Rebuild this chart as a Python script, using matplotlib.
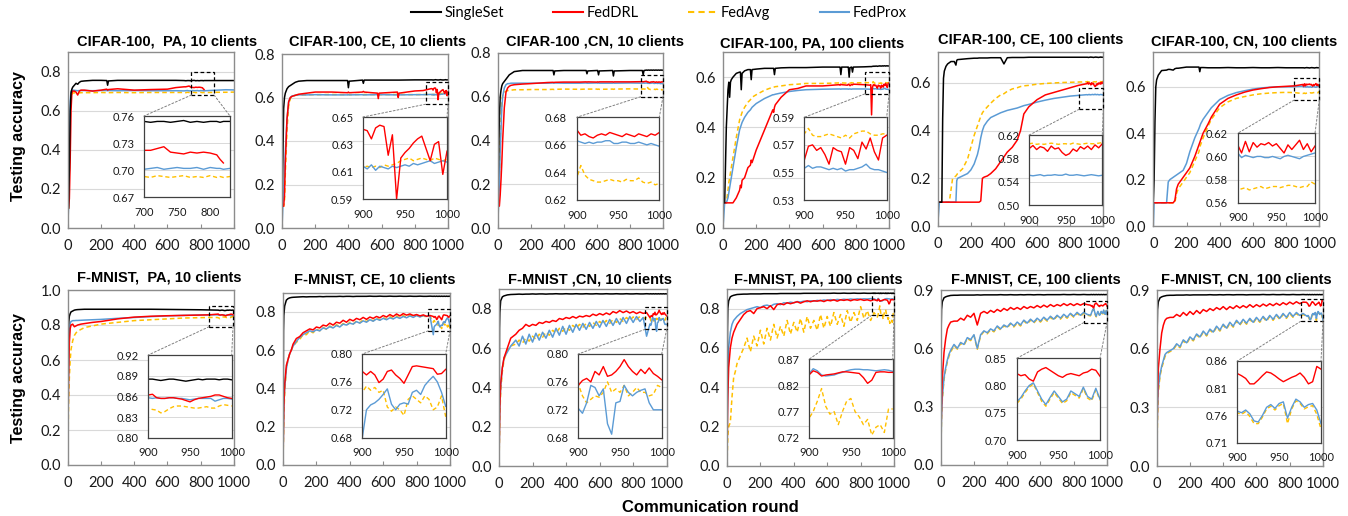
import numpy as np
import matplotlib
matplotlib.use('Agg')
import matplotlib.pyplot as plt
from matplotlib.patches import Rectangle, ConnectionPatch
from matplotlib.lines import Line2D

NaN = float('nan')

SERIES_NAMES = ['SingleSet', 'FedDRL', 'FedAvg', 'FedProx']
TITLES = ["CIFAR-100,  PA, 10 clients", "CIFAR-100, CE, 10 clients", "CIFAR-100 ,CN, 10 clients",
          "CIFAR-100, PA, 100 clients", "CIFAR-100, CE, 100 clients", "CIFAR-100, CN, 100 clients",
          "F-MNIST,  PA, 10 clients", "F-MNIST, CE, 10 clients", "F-MNIST ,CN, 10 clients",
          "F-MNIST, PA, 100 clients", "F-MNIST, CE, 100 clients", "F-MNIST, CN, 100 clients"]

TAIL = [900, 905, 910, 915, 920, 925, 930, 935, 940, 945, 950, 955, 960, 965, 970, 975, 980, 985, 990, 995, 1000]
MID = [100, 120, 140, 160, 180, 200, 220, 240, 260, 280, 300, 320, 340, 360, 380, 400, 420, 440, 460, 480,
       500, 520, 540, 560, 580, 600, 620, 640, 660, 680, 700, 720, 740, 760, 780, 800, 820, 840, 860, 880]

# ---------------- Panel 1: CIFAR-100, PA, 10 clients
p1_x = [0, 5, 10, 15, 20, 25, 30, 40, 50, 60, 70, 80, 100, 150, 200, 235, 240, 245, 300, 400, 500, 600, 650,
        700, 710, 720, 730, 740, 750, 760, 770, 780, 790, 800, 810, 815, 820, 830, 850, 900, 950, 1000]
p1_single = [0.1, 0.1, 0.3, 0.6, 0.69, 0.71, 0.72, 0.73, 0.74, 0.735, 0.745, 0.75, 0.752, 0.755, 0.755,
             0.754, 0.73, 0.752, 0.755, 0.755, 0.755, 0.755, 0.755,
             0.754, 0.753, 0.754, 0.754, 0.753, 0.754, 0.755, 0.753, 0.754, 0.753, 0.754,
             0.754, 0.753, 0.754, 0.754, 0.754, 0.754, 0.754, 0.754]
p1_drl = [0.1, 0.1, 0.15, 0.35, 0.6, 0.69, 0.70, 0.70, 0.695, 0.68, 0.70, 0.705, 0.705, 0.70, 0.705,
          0.71, 0.705, 0.708, 0.712, 0.705, 0.708, 0.71, 0.718,
          0.722, 0.722, 0.724, 0.726, 0.72, 0.719, 0.718, 0.72, 0.719, 0.72, 0.719,
          0.717, 0.712, 0.708, NaN, NaN, NaN, NaN, NaN]
p1_avg = [0.1, 0.1, 0.3, 0.55, 0.67, 0.685, 0.69, 0.691, 0.692, 0.692, 0.691, 0.692, 0.692, 0.692, 0.693,
          0.692, 0.692, 0.692, 0.693, 0.692, 0.693, 0.693, 0.693,
          0.693, 0.692, 0.694, 0.693, 0.692, 0.693, 0.694, 0.692, 0.693, 0.692, 0.694,
          0.692, 0.693, 0.692, 0.693, 0.693, 0.694, 0.694, 0.695]
p1_prox = [0.0, 0.1, 0.4, 0.65, 0.70, 0.703, 0.705, 0.704, 0.703, 0.702, 0.703, 0.703, 0.703, 0.702, 0.703,
           0.703, 0.702, 0.703, 0.702, 0.703, 0.702, 0.702, 0.702,
           0.701, 0.702, 0.703, 0.701, 0.702, 0.703, 0.702, 0.702, 0.703, 0.701, 0.703,
           0.702, 0.702, 0.701, 0.702, 0.703, 0.705, 0.707, 0.706]

# ---------------- Panel 2: CIFAR-100, CE, 10 clients
p2_x = [0, 5, 10, 15, 20, 30, 40, 50, 60, 80, 100, 150, 200, 300, 395, 400, 405, 485, 490, 495,
        575, 580, 585, 695, 700, 705, 800, 850] + TAIL
p2_single = [0.1, 0.3, 0.55, 0.6, 0.62, 0.64, 0.65, 0.655, 0.66, 0.67, 0.675, 0.678, 0.678, 0.678,
             0.678, 0.645, 0.675, 0.68, 0.665, 0.68, 0.68, 0.68, 0.68, 0.68, 0.68, 0.68, 0.681, 0.681] + \
            [0.681, 0.681, 0.680, 0.681, 0.681, 0.682, 0.681, 0.681, 0.680, 0.681, 0.681, 0.682, 0.681,
             0.681, 0.680, 0.681, 0.681, 0.682, 0.681, 0.681, 0.681]
p2_drl = [0.1, 0.1, 0.1, 0.15, 0.3, 0.5, 0.58, 0.6, 0.605, 0.61, 0.615, 0.62, 0.625, 0.625,
          0.622, 0.625, 0.622, 0.625, 0.628, 0.625, 0.62, 0.595, 0.62, 0.625, 0.60, 0.62, 0.63, 0.632] + \
         [0.641, 0.640, 0.634, 0.642, 0.644, 0.643, 0.622, 0.637, 0.590, 0.620, 0.624, 0.627, 0.631,
          0.634, 0.636, 0.627, 0.618, 0.630, 0.632, 0.608, 0.625]
p2_avg = [0.1, 0.1, 0.1, 0.12, 0.25, 0.45, 0.56, 0.595, 0.605, 0.61, 0.612, 0.613, 0.613, 0.614,
          0.613, 0.614, 0.613, 0.614, 0.613, 0.614, 0.613, 0.614, 0.613, 0.614, 0.613, 0.614, 0.613, 0.614] + \
         [0.613, 0.614, 0.613, 0.614, 0.613, 0.615, 0.614, 0.615, 0.616, 0.618, 0.619, 0.620, 0.618,
          0.619, 0.620, 0.619, 0.618, 0.620, 0.619, 0.618, 0.619]
p2_prox = [0.0, 0.1, 0.15, 0.25, 0.35, 0.5, 0.58, 0.6, 0.607, 0.61, 0.612, 0.612, 0.613, 0.612,
           0.612, 0.613, 0.612, 0.613, 0.612, 0.612, 0.613, 0.612, 0.613, 0.612, 0.613, 0.612, 0.613, 0.613] + \
          [0.614, 0.612, 0.615, 0.611, 0.614, 0.613, 0.612, 0.614, 0.613, 0.614, 0.615, 0.614, 0.616,
           0.615, 0.616, 0.617, 0.618, 0.616, 0.617, 0.618, 0.617]

# ---------------- Panel 3: CIFAR-100, CN, 10 clients
p3_x = [0, 5, 10, 15, 20, 25, 30, 40, 50, 60, 70, 80, 100, 150, 200, 300, 335, 340, 345, 400,
        500, 535, 540, 545, 600, 605, 610, 615, 695, 700, 705, 800, 875, 880, 885] + TAIL
p3_single = [0.1, 0.3, 0.5, 0.6, 0.63, 0.65, 0.66, 0.67, 0.68, 0.69, 0.70, 0.705, 0.715, 0.72, 0.72,
             0.72, 0.72, 0.70, 0.718, 0.72, 0.72, 0.72, 0.705, 0.718, 0.72, 0.72, 0.70, 0.718, 0.72, 0.695,
             0.718, 0.72, 0.72, 0.70, 0.72] + \
            [0.722, 0.721, 0.722, 0.722, 0.721, 0.722, 0.722, 0.721, 0.722, 0.722, 0.721, 0.722, 0.722,
             0.721, 0.722, 0.722, 0.721, 0.722, 0.722, 0.721, 0.722]
p3_drl = [0.1, 0.1, 0.1, 0.15, 0.22, 0.3, 0.4, 0.55, 0.62, 0.64, 0.648, 0.652, 0.655, 0.658, 0.66,
          0.665, 0.666, 0.665, 0.666, 0.667, 0.667, 0.668, 0.667, 0.668, 0.667, 0.668, 0.667, 0.668, 0.668, 0.667,
          0.668, 0.668, 0.669, 0.668, 0.669] + \
         [0.671, 0.667, 0.668, 0.666, 0.665, 0.667, 0.668, 0.667, 0.669, 0.668, 0.667, 0.666, 0.668,
          0.667, 0.666, 0.668, 0.667, 0.666, 0.668, 0.667, 0.669]
p3_avg = [0.1, 0.15, 0.25, 0.4, 0.5, 0.58, 0.61, 0.62, 0.625, 0.628, 0.63, 0.63, 0.632, 0.632, 0.633,
          0.633, 0.634, 0.633, 0.634, 0.635, 0.634, 0.635, 0.634, 0.635, 0.635, 0.634, 0.635, 0.634, 0.635, 0.634,
          0.635, 0.636, 0.635, 0.636, 0.635] + \
         [0.636, 0.645, 0.638, 0.635, 0.634, 0.633, 0.633, 0.634, 0.635, 0.634, 0.634, 0.633, 0.635,
          0.634, 0.634, 0.636, 0.633, 0.632, 0.633, 0.631, 0.632]
p3_prox = [0.0, 0.1, 0.2, 0.35, 0.45, 0.55, 0.6, 0.64, 0.655, 0.66, 0.66, 0.662, 0.662, 0.662, 0.662,
           0.662, 0.663, 0.662, 0.663, 0.662, 0.662, 0.663, 0.662, 0.662, 0.663, 0.662, 0.663, 0.662, 0.662, 0.663,
           0.662, 0.663, 0.662, 0.663, 0.662] + \
          [0.663, 0.662, 0.661, 0.662, 0.661, 0.662, 0.662, 0.663, 0.663, 0.661, 0.661, 0.662, 0.662,
           0.661, 0.661, 0.662, 0.661, 0.660, 0.661, 0.660, 0.659]

# ---------------- Panel 4: CIFAR-100, PA, 100 clients
p4_x = [0, 10, 20, 30, 35, 40, 45, 50, 60, 80, 100, 105, 110, 115, 130, 150, 165, 170, 175, 200,
        250, 300, 305, 310, 315, 350, 400, 450, 500, 600, 700, 705, 710, 715, 750, 755, 760, 765, 775, 780,
        785, 850, 885, 890, 895] + TAIL
p4_single = [0.1, 0.1, 0.4, 0.55, 0.58, 0.52, 0.58, 0.59, 0.6, 0.615, 0.62, 0.62, 0.55, 0.615, 0.625,
             0.63, 0.63, 0.59, 0.63, 0.632, 0.635, 0.635, 0.635, 0.61, 0.635, 0.637, 0.638, 0.638, 0.638, 0.64,
             0.64, 0.64, 0.61, 0.64, 0.64, 0.64, 0.60, 0.638, 0.64, 0.62, 0.64, 0.641, 0.642, 0.642, 0.642] + \
            [0.643, 0.643, 0.644, 0.643, 0.644, 0.644, 0.643, 0.644, 0.644, 0.645, 0.644, 0.644, 0.645,
             0.644, 0.645, 0.645, 0.644, 0.645, 0.645, 0.644, 0.645]
p4_drl = [0.1, 0.1, 0.1, 0.1, 0.1, 0.1, 0.1, 0.1, 0.1, 0.12, 0.15, 0.17, 0.16, 0.19, 0.2,
          0.24, 0.25, 0.27, 0.26, 0.31, 0.39, 0.47, 0.46, 0.48, 0.49, 0.52, 0.55, 0.555, 0.565, 0.565,
          0.57, 0.568, 0.572, 0.57, 0.568, 0.572, 0.57, 0.566, 0.571, 0.569, 0.572, 0.57, 0.568, 0.57, 0.45] + \
         [0.559, 0.569, 0.570, 0.566, 0.568, 0.563, 0.556, 0.568, 0.566, 0.565, 0.556, 0.568, 0.566,
          0.560, 0.572, 0.567, 0.575, 0.565, 0.559, 0.575, 0.577]
p4_avg = [0.1, 0.1, 0.1, 0.15, 0.18, 0.2, 0.22, 0.24, 0.28, 0.36, 0.43, 0.44, 0.45, 0.46, 0.48,
          0.5, 0.51, 0.515, 0.52, 0.53, 0.548, 0.56, 0.56, 0.561, 0.562, 0.565, 0.57, 0.572, 0.575, 0.575,
          0.577, 0.576, 0.578, 0.577, 0.576, 0.578, 0.577, 0.576, 0.578, 0.577, 0.577, 0.578, 0.578, 0.577, 0.578] + \
         [0.578, 0.582, 0.577, 0.576, 0.576, 0.577, 0.578, 0.577, 0.576, 0.575, 0.577, 0.575, 0.578,
          0.579, 0.580, 0.580, 0.578, 0.577, 0.577, 0.578, 0.578]
p4_prox = [0.0, 0.1, 0.1, 0.12, 0.14, 0.16, 0.18, 0.2, 0.24, 0.32, 0.39, 0.40, 0.41, 0.42, 0.44,
           0.46, 0.47, 0.475, 0.48, 0.495, 0.515, 0.53, 0.53, 0.531, 0.532, 0.537, 0.543, 0.547, 0.55, 0.552,
           0.553, 0.553, 0.552, 0.553, 0.553, 0.552, 0.553, 0.553, 0.552, 0.553, 0.553, 0.553, 0.552, 0.553, 0.553] + \
          [0.553, 0.555, 0.553, 0.554, 0.554, 0.553, 0.552, 0.553, 0.552, 0.553, 0.551, 0.552, 0.552,
           0.553, 0.554, 0.556, 0.553, 0.552, 0.552, 0.551, 0.550]

# ---------------- Panel 5: CIFAR-100, CE, 100 clients
p5_x = [0, 10, 20, 25, 30, 35, 40, 50, 60, 70, 80, 90, 100, 110, 115, 120, 150, 180, 200, 220,
        240, 250, 260, 270, 280, 300, 320, 350, 380, 400, 420, 450, 480, 500, 520, 550, 600, 650, 700, 750,
        800, 850] + TAIL
p5_single = [0.1, 0.1, 0.1, 0.1, 0.45, 0.62, 0.65, 0.67, 0.68, 0.685, 0.69, 0.69, 0.69, 0.675, 0.695,
             0.698, 0.70, 0.702, 0.703, 0.704, 0.704, 0.705, 0.705, 0.705, 0.705, 0.705, 0.706, 0.706, 0.706, 0.68,
             0.706, 0.707, 0.707, 0.707, 0.707, 0.708, 0.708, 0.708, 0.708, 0.708, 0.708, 0.708] + \
            [0.708, 0.708, 0.707, 0.708, 0.708, 0.709, 0.708, 0.708, 0.707, 0.708, 0.708, 0.709, 0.708,
             0.708, 0.707, 0.708, 0.708, 0.709, 0.708, 0.708, 0.708]
p5_drl = [0.1, 0.1, 0.1, 0.1, 0.1, 0.1, 0.1, 0.1, 0.1, 0.1, 0.1, 0.1, 0.1, 0.1, 0.1,
          0.1, 0.1, 0.1, 0.1, 0.1, 0.1, 0.1, 0.105, 0.2, 0.205, 0.21, 0.22, 0.24, 0.27, 0.29,
          0.31, 0.33, 0.36, 0.4, 0.47, 0.5, 0.53, 0.55, 0.56, 0.57, 0.58, 0.59] + \
         [0.597, 0.602, 0.595, 0.600, 0.598, 0.592, 0.601, 0.596, 0.598, 0.590, 0.585, 0.588, 0.596,
          0.592, 0.600, 0.596, 0.601, 0.595, 0.603, 0.598, 0.605]
p5_avg = [0.1, 0.1, 0.1, 0.1, 0.1, 0.1, 0.1, 0.1, 0.1, 0.1, 0.15, 0.2, 0.205, 0.21, 0.215,
          0.22, 0.24, 0.28, 0.33, 0.38, 0.42, 0.44, 0.46, 0.475, 0.485, 0.5, 0.515, 0.535, 0.55, 0.555,
          0.565, 0.575, 0.58, 0.585, 0.588, 0.59, 0.595, 0.598, 0.6, 0.602, 0.603, 0.604] + \
         [0.605, 0.606, 0.604, 0.605, 0.604, 0.605, 0.606, 0.605, 0.604, 0.605, 0.605, 0.604, 0.606,
          0.605, 0.604, 0.605, 0.606, 0.605, 0.605, 0.606, 0.607]
p5_prox = [0.0, 0.1, 0.1, 0.1, 0.1, 0.1, 0.1, 0.1, 0.1, 0.1, 0.1, 0.1, 0.1, 0.1, 0.19,
           0.2, 0.21, 0.22, 0.235, 0.26, 0.3, 0.33, 0.37, 0.4, 0.42, 0.44, 0.455, 0.465, 0.475, 0.48,
           0.485, 0.49, 0.495, 0.5, 0.505, 0.51, 0.52, 0.528, 0.535, 0.54, 0.545, 0.548] + \
          [0.551, 0.550, 0.551, 0.552, 0.550, 0.551, 0.551, 0.552, 0.551, 0.551, 0.553, 0.551, 0.551,
           0.552, 0.551, 0.550, 0.551, 0.552, 0.551, 0.550, 0.551]

# ---------------- Panel 6: CIFAR-100, CN, 100 clients
p6_x = [0, 5, 10, 15, 20, 30, 50, 80, 90, 100, 120, 130, 140, 150, 180, 200, 220, 250, 275, 280,
        285, 300, 330, 350, 400, 450, 500, 550, 600, 650, 700, 750, 800, 850] + TAIL
p6_single = [0.1, 0.2, 0.45, 0.6, 0.63, 0.65, 0.67, 0.672, 0.675, 0.675, 0.672, 0.678, 0.68, 0.68, 0.683,
             0.685, 0.685, 0.685, 0.685, 0.665, 0.683, 0.683, 0.682, 0.682, 0.682, 0.683, 0.682, 0.682, 0.683,
             0.682, 0.682, 0.683, 0.682, 0.682] + \
            [0.682, 0.682, 0.681, 0.682, 0.682, 0.683, 0.682, 0.682, 0.681, 0.682, 0.682, 0.683, 0.682,
             0.682, 0.681, 0.682, 0.682, 0.683, 0.682, 0.682, 0.682]
p6_drl = [0.1, 0.1, 0.1, 0.1, 0.1, 0.1, 0.1, 0.1, 0.1, 0.1, 0.1, 0.11, 0.16, 0.18, 0.21,
          0.23, 0.25, 0.3, 0.35, 0.36, 0.37, 0.4, 0.44, 0.47, 0.525, 0.55, 0.565, 0.577, 0.586, 0.592,
          0.597, 0.6, 0.602, 0.604] + \
         [0.610, 0.603, 0.613, 0.604, 0.612, 0.608, 0.611, 0.610, 0.612, 0.609, 0.611, 0.607, 0.603,
          0.610, 0.606, 0.610, 0.614, 0.606, 0.611, 0.604, 0.609]
p6_avg = [0.1, 0.1, 0.1, 0.1, 0.1, 0.1, 0.1, 0.1, 0.1, 0.1, 0.1, 0.1, 0.14, 0.16, 0.19,
          0.21, 0.23, 0.28, 0.32, 0.34, 0.35, 0.38, 0.43, 0.46, 0.51, 0.535, 0.55, 0.558, 0.565, 0.57,
          0.573, 0.575, 0.576, 0.575] + \
         [0.571, 0.572, 0.573, 0.571, 0.572, 0.573, 0.574, 0.572, 0.573, 0.574, 0.574, 0.573, 0.574,
          0.575, 0.575, 0.574, 0.573, 0.574, 0.574, 0.578, 0.576]
p6_prox = [0.0, 0.1, 0.1, 0.1, 0.1, 0.1, 0.1, 0.1, 0.19, 0.2, 0.21, 0.215, 0.22, 0.225, 0.24,
           0.27, 0.32, 0.38, 0.42, 0.43, 0.44, 0.46, 0.49, 0.51, 0.545, 0.563, 0.575, 0.583, 0.59, 0.595,
           0.598, 0.6, 0.6, 0.601] + \
          [0.603, 0.599, 0.601, 0.600, 0.599, 0.600, 0.600, 0.599, 0.599, 0.600, 0.599, 0.598, 0.600,
           0.601, 0.600, 0.599, 0.598, 0.600, 0.601, 0.602, 0.603]

# ---------------- Panel 7: F-MNIST, PA, 10 clients
p7_x = [0, 3, 5, 10, 15, 20, 30, 40, 50, 60, 80, 100, 150, 200, 300, 400, 500, 600, 700, 800, 850] + TAIL
p7_single = [0.0, 0.7, 0.8, 0.85, 0.865, 0.875, 0.88, 0.885, 0.887, 0.888, 0.889, 0.89, 0.89, 0.89, 0.89,
             0.89, 0.89, 0.889, 0.888, 0.887, 0.886] + \
            [0.885, 0.885, 0.884, 0.883, 0.884, 0.885, 0.885, 0.884, 0.883, 0.882, 0.883, 0.884, 0.885,
             0.884, 0.885, 0.885, 0.885, 0.884, 0.885, 0.885, 0.884]
p7_drl = [0.0, 0.3, 0.5, 0.7, 0.78, 0.8, 0.805, 0.79, 0.795, 0.80, 0.805, 0.808, 0.815, 0.82, 0.835,
          0.845, 0.85, 0.853, 0.855, 0.857, 0.858] + \
         [0.862, 0.863, 0.858, 0.857, 0.857, 0.858, 0.858, 0.857, 0.856, 0.854, 0.852, 0.855, 0.857,
          0.858, 0.859, 0.860, 0.862, 0.862, 0.860, 0.858, 0.857]
p7_avg = [0.0, 0.2, 0.35, 0.5, 0.6, 0.66, 0.71, 0.74, 0.755, 0.765, 0.775, 0.785, 0.795, 0.805, 0.815,
          0.825, 0.83, 0.835, 0.84, 0.842, 0.843] + \
         [0.843, 0.841, 0.840, 0.836, 0.838, 0.842, 0.845, 0.846, 0.846, 0.845, 0.844, 0.843, 0.843,
          0.844, 0.845, 0.843, 0.843, 0.846, 0.848, 0.847, 0.846]
p7_prox = [0.0, 0.3, 0.5, 0.75, 0.81, 0.82, 0.825, 0.825, 0.826, 0.826, 0.827, 0.828, 0.83, 0.832, 0.838,
           0.843, 0.848, 0.852, 0.855, 0.857, 0.858] + \
          [0.858, 0.857, 0.858, 0.857, 0.857, 0.858, 0.858, 0.857, 0.857, 0.856, 0.855, 0.856, 0.857,
           0.857, 0.857, 0.857, 0.853, 0.855, 0.857, 0.857, 0.856]

# ---------------- Panel 8: F-MNIST, CE, 10 clients
p8_x = [0, 3, 5, 10, 20, 30, 40, 50, 60, 80] + MID + TAIL
p8_single = [0.0, 0.7, 0.78, 0.83, 0.86, 0.868, 0.872, 0.874, 0.875, 0.876] + \
            [0.877, 0.878, 0.877, 0.878, 0.878, 0.878, 0.879, 0.878, 0.879, 0.879,
             0.879, 0.879, 0.880, 0.879, 0.880, 0.880, 0.879, 0.880, 0.880, 0.880,
             0.880, 0.881, 0.880, 0.880, 0.881, 0.880, 0.880, 0.881, 0.880, 0.880,
             0.881, 0.880, 0.880, 0.881, 0.880, 0.880, 0.881, 0.880, 0.880, 0.881] + \
            [0.880, 0.881, 0.880, 0.880, 0.881, 0.880, 0.880, 0.881, 0.880, 0.880, 0.881, 0.880, 0.880,
             0.881, 0.880, 0.880, 0.881, 0.880, 0.880, 0.881, 0.880]
p8_drl = [0.0, 0.2, 0.3, 0.42, 0.52, 0.55, 0.58, 0.6, 0.63, 0.66] + \
         [0.67, 0.69, 0.70, 0.71, 0.705, 0.72, 0.715, 0.73, 0.725, 0.74,
          0.73, 0.745, 0.74, 0.755, 0.745, 0.76, 0.752, 0.765, 0.758, 0.77,
          0.76, 0.772, 0.765, 0.775, 0.768, 0.78, 0.772, 0.785, 0.775, 0.788,
          0.778, 0.79, 0.782, 0.788, 0.78, 0.785, 0.778, 0.783, 0.776, 0.78] + \
         [0.775, 0.770, 0.775, 0.770, 0.759, 0.764, 0.775, 0.777, 0.770, 0.765, 0.758, 0.770, 0.782,
          0.783, 0.782, 0.781, 0.780, 0.779, 0.771, 0.772, 0.778]
p8_avg = [0.0, 0.15, 0.25, 0.38, 0.5, 0.55, 0.58, 0.6, 0.62, 0.64] + \
         [0.655, 0.68, 0.68, 0.70, 0.69, 0.708, 0.70, 0.718, 0.708, 0.725,
          0.715, 0.732, 0.722, 0.738, 0.728, 0.745, 0.735, 0.752, 0.742, 0.758,
          0.748, 0.762, 0.752, 0.768, 0.756, 0.77, 0.76, 0.775, 0.764, 0.778,
          0.766, 0.78, 0.77, 0.782, 0.772, 0.782, 0.772, 0.78, 0.77, 0.776] + \
         [0.745, 0.754, 0.748, 0.752, 0.745, 0.748, 0.724, 0.718, 0.724, 0.720, 0.712, 0.735, 0.740,
          0.735, 0.730, 0.740, 0.735, 0.720, 0.724, 0.740, 0.710]
p8_prox = [0.0, 0.2, 0.3, 0.4, 0.5, 0.55, 0.58, 0.6, 0.62, 0.645] + \
          [0.665, 0.68, 0.69, 0.70, 0.695, 0.705, 0.70, 0.715, 0.71, 0.722,
           0.715, 0.728, 0.72, 0.735, 0.73, 0.74, 0.735, 0.748, 0.74, 0.752,
           0.745, 0.758, 0.75, 0.762, 0.755, 0.765, 0.758, 0.768, 0.762, 0.772,
           0.765, 0.775, 0.768, 0.778, 0.77, 0.78, 0.772, 0.78, 0.775, 0.778] + \
          [0.680, 0.720, 0.727, 0.730, 0.735, 0.742, 0.750, 0.728, 0.720, 0.728, 0.730, 0.728, 0.745,
           0.748, 0.742, 0.755, 0.762, 0.768, 0.760, 0.745, 0.725]

# ---------------- Panel 9: F-MNIST, CN, 10 clients
p9_x = [0, 3, 5, 10, 20, 30, 50, 70] + MID + TAIL
p9_single = [0.0, 0.7, 0.78, 0.84, 0.86, 0.865, 0.87, 0.872] + \
            [0.873, 0.874, 0.873, 0.874, 0.874, 0.875, 0.874, 0.875, 0.875, 0.874,
             0.875, 0.875, 0.876, 0.875, 0.875, 0.876, 0.875, 0.875, 0.876, 0.875,
             0.875, 0.876, 0.875, 0.875, 0.876, 0.875, 0.875, 0.876, 0.875, 0.875,
             0.876, 0.875, 0.875, 0.876, 0.875, 0.875, 0.876, 0.875, 0.875, 0.876] + \
            [0.875, 0.876, 0.875, 0.875, 0.876, 0.875, 0.875, 0.876, 0.875, 0.875, 0.876, 0.875, 0.875,
             0.876, 0.875, 0.875, 0.876, 0.875, 0.875, 0.876, 0.875]
p9_drl = [0.0, 0.2, 0.3, 0.42, 0.5, 0.55, 0.6, 0.65] + \
         [0.67, 0.69, 0.70, 0.72, 0.71, 0.72, 0.715, 0.73, 0.725, 0.735,
          0.73, 0.74, 0.735, 0.75, 0.745, 0.755, 0.75, 0.76, 0.752, 0.762,
          0.758, 0.765, 0.76, 0.772, 0.765, 0.775, 0.768, 0.778, 0.77, 0.785,
          0.778, 0.79, 0.78, 0.788, 0.778, 0.785, 0.775, 0.783, 0.776, 0.78] + \
         [0.755, 0.762, 0.765, 0.760, 0.775, 0.770, 0.782, 0.768, 0.770, 0.775, 0.782, 0.792, 0.782,
          0.775, 0.770, 0.778, 0.772, 0.780, 0.772, 0.768, 0.763]
p9_avg = [0.0, 0.15, 0.25, 0.38, 0.48, 0.54, 0.59, 0.61] + \
         [0.62, 0.64, 0.625, 0.65, 0.635, 0.66, 0.645, 0.67, 0.655, 0.68,
          0.665, 0.69, 0.675, 0.70, 0.685, 0.705, 0.69, 0.715, 0.70, 0.72,
          0.705, 0.725, 0.71, 0.73, 0.715, 0.735, 0.72, 0.74, 0.725, 0.745,
          0.73, 0.75, 0.735, 0.755, 0.74, 0.758, 0.745, 0.76, 0.75, 0.755] + \
         [0.757, 0.740, 0.730, 0.735, 0.740, 0.738, 0.745, 0.760, 0.745, 0.750, 0.745, 0.755, 0.740,
          0.745, 0.752, 0.745, 0.745, 0.740, 0.742, 0.755, 0.752]
p9_prox = [0.0, 0.2, 0.3, 0.4, 0.5, 0.55, 0.58, 0.61] + \
          [0.64, 0.61, 0.66, 0.62, 0.67, 0.63, 0.675, 0.64, 0.68, 0.65,
           0.69, 0.655, 0.70, 0.665, 0.71, 0.67, 0.715, 0.68, 0.72, 0.69,
           0.725, 0.695, 0.73, 0.70, 0.735, 0.705, 0.74, 0.71, 0.745, 0.715,
           0.75, 0.72, 0.755, 0.725, 0.76, 0.73, 0.76, 0.735, 0.755, 0.66] + \
          [0.722, 0.715, 0.730, 0.755, 0.752, 0.740, 0.750, 0.700, 0.685, 0.730, 0.732, 0.755, 0.745,
           0.740, 0.745, 0.748, 0.750, 0.730, 0.720, 0.720, 0.720]

# ---------------- Panel 10: F-MNIST, PA, 100 clients
p10_x = [0, 3, 5, 10, 20, 30, 40, 50, 60, 80] + MID + TAIL
p10_single = [0.0, 0.7, 0.8, 0.84, 0.86, 0.865, 0.868, 0.87, 0.872, 0.873] + \
             [0.874, 0.874, 0.875, 0.875, 0.875, 0.875, 0.876, 0.876, 0.876, 0.876,
              0.876, 0.877, 0.877, 0.877, 0.877, 0.877, 0.877, 0.877, 0.878, 0.878,
              0.878, 0.878, 0.878, 0.878, 0.878, 0.878, 0.878, 0.879, 0.878, 0.878,
              0.879, 0.878, 0.878, 0.879, 0.878, 0.878, 0.879, 0.878, 0.878, 0.879] + \
             [0.878, 0.879, 0.878, 0.878, 0.879, 0.878, 0.878, 0.879, 0.878, 0.878, 0.879, 0.878, 0.878,
              0.879, 0.878, 0.878, 0.879, 0.878, 0.878, 0.879, 0.878]
p10_drl = [0.0, 0.25, 0.35, 0.5, 0.6, 0.65, 0.68, 0.7, 0.72, 0.745] + \
          [0.77, 0.785, 0.79, 0.775, 0.80, 0.805, 0.81, 0.80, 0.815, 0.795,
           0.82, 0.825, 0.82, 0.83, 0.825, 0.83, 0.835, 0.828, 0.835, 0.84,
           0.835, 0.84, 0.838, 0.842, 0.836, 0.843, 0.84, 0.845, 0.838, 0.845,
           0.842, 0.846, 0.84, 0.846, 0.843, 0.847, 0.842, 0.845, 0.84, 0.846] + \
          [0.840, 0.848, 0.845, 0.838, 0.840, 0.841, 0.842, 0.844, 0.846, 0.846, 0.845, 0.844, 0.843,
           0.835, 0.824, 0.830, 0.845, 0.846, 0.846, 0.845, 0.845]
p10_avg = [0.0, 0.1, 0.15, 0.2, 0.22, 0.35, 0.45, 0.48, 0.52, 0.56] + \
          [0.60, 0.65, 0.58, 0.66, 0.61, 0.69, 0.62, 0.70, 0.64, 0.72,
           0.65, 0.71, 0.66, 0.74, 0.67, 0.73, 0.68, 0.75, 0.68, 0.76,
           0.70, 0.74, 0.69, 0.77, 0.70, 0.76, 0.71, 0.78, 0.72, 0.77,
           0.71, 0.79, 0.73, 0.78, 0.74, 0.81, 0.75, 0.79, 0.74, 0.78] + \
          [0.757, 0.770, 0.790, 0.814, 0.780, 0.765, 0.770, 0.745, 0.770, 0.790, 0.795, 0.770, 0.760,
           0.745, 0.755, 0.725, 0.740, 0.745, 0.730, 0.775, 0.775]
p10_prox = [0.0, 0.3, 0.45, 0.6, 0.68, 0.72, 0.74, 0.75, 0.76, 0.775] + \
           [0.785, 0.795, 0.80, 0.805, 0.81, 0.805, 0.815, 0.818, 0.812, 0.822,
            0.825, 0.82, 0.83, 0.828, 0.833, 0.83, 0.836, 0.834, 0.838, 0.835,
            0.84, 0.838, 0.842, 0.84, 0.844, 0.842, 0.846, 0.843, 0.847, 0.845,
            0.848, 0.846, 0.849, 0.847, 0.85, 0.848, 0.85, 0.849, 0.851, 0.85] + \
           [0.842, 0.852, 0.848, 0.840, 0.838, 0.839, 0.840, 0.843, 0.845, 0.848, 0.850, 0.851, 0.851,
            0.850, 0.850, 0.849, 0.848, 0.849, 0.850, 0.849, 0.847]

# ---------------- Panel 11: F-MNIST, CE, 100 clients
p11_x = [0, 3, 5, 10, 20, 30, 40, 50, 60, 80] + MID + TAIL
p11_single = [0.0, 0.7, 0.8, 0.84, 0.86, 0.865, 0.868, 0.87, 0.872, 0.873] + \
             [0.873, 0.874, 0.874, 0.874, 0.874, 0.874, 0.875, 0.874, 0.875, 0.875,
              0.875, 0.875, 0.875, 0.876, 0.875, 0.875, 0.876, 0.875, 0.875, 0.876,
              0.875, 0.876, 0.876, 0.875, 0.876, 0.876, 0.875, 0.876, 0.876, 0.876,
              0.876, 0.876, 0.877, 0.876, 0.876, 0.877, 0.876, 0.876, 0.877, 0.876] + \
             [0.876, 0.877, 0.876, 0.876, 0.877, 0.876, 0.876, 0.877, 0.876, 0.876, 0.877, 0.876, 0.876,
              0.877, 0.876, 0.876, 0.877, 0.876, 0.876, 0.877, 0.876]
p11_drl = [0.0, 0.2, 0.3, 0.45, 0.58, 0.65, 0.7, 0.72, 0.735, 0.74] + \
          [0.74, 0.755, 0.745, 0.77, 0.76, 0.78, 0.72, 0.78, 0.79, 0.78,
           0.795, 0.785, 0.80, 0.79, 0.805, 0.795, 0.81, 0.80, 0.81, 0.80,
           0.815, 0.805, 0.815, 0.808, 0.82, 0.81, 0.822, 0.812, 0.825, 0.815,
           0.825, 0.818, 0.83, 0.82, 0.83, 0.82, 0.83, 0.822, 0.83, 0.825] + \
          [0.822, 0.818, 0.820, 0.812, 0.808, 0.825, 0.830, 0.833, 0.828, 0.823, 0.818, 0.815, 0.820,
           0.822, 0.820, 0.818, 0.823, 0.825, 0.830, 0.828, 0.817]
p11_avg = [0.0, 0.15, 0.24, 0.34, 0.44, 0.49, 0.53, 0.56, 0.58, 0.615] + \
          [0.596, 0.625, 0.616, 0.65, 0.64, 0.666, 0.595, 0.665, 0.686, 0.675,
           0.696, 0.685, 0.71, 0.695, 0.716, 0.705, 0.726, 0.71, 0.73, 0.715,
           0.741, 0.725, 0.745, 0.73, 0.75, 0.735, 0.756, 0.74, 0.76, 0.745,
           0.766, 0.75, 0.77, 0.755, 0.776, 0.76, 0.78, 0.765, 0.78, 0.771] + \
          [0.767, 0.775, 0.787, 0.797, 0.803, 0.787, 0.771, 0.762, 0.775, 0.787, 0.777, 0.767, 0.772,
           0.787, 0.782, 0.777, 0.794, 0.777, 0.772, 0.792, 0.773]
p11_prox = [0.0, 0.15, 0.25, 0.35, 0.45, 0.5, 0.54, 0.57, 0.59, 0.62] + \
           [0.60, 0.63, 0.62, 0.655, 0.645, 0.67, 0.60, 0.67, 0.69, 0.68,
            0.70, 0.69, 0.715, 0.70, 0.72, 0.71, 0.73, 0.715, 0.735, 0.72,
            0.745, 0.73, 0.75, 0.735, 0.755, 0.74, 0.76, 0.745, 0.765, 0.75,
            0.77, 0.755, 0.775, 0.76, 0.78, 0.765, 0.785, 0.77, 0.785, 0.775] + \
           [0.770, 0.778, 0.790, 0.800, 0.805, 0.790, 0.775, 0.765, 0.778, 0.790, 0.780, 0.770, 0.775,
            0.790, 0.785, 0.780, 0.797, 0.780, 0.775, 0.795, 0.775]

# ---------------- Panel 12: F-MNIST, CN, 100 clients
p12_x = [0, 3, 5, 10, 20, 30, 40, 50, 60, 80] + MID + TAIL
p12_single = [0.0, 0.7, 0.8, 0.84, 0.86, 0.865, 0.868, 0.87, 0.872, 0.873] + \
             [0.873, 0.874, 0.874, 0.874, 0.875, 0.874, 0.875, 0.875, 0.875, 0.875,
              0.875, 0.876, 0.875, 0.875, 0.876, 0.875, 0.876, 0.876, 0.875, 0.876,
              0.876, 0.876, 0.875, 0.876, 0.876, 0.876, 0.876, 0.877, 0.876, 0.876,
              0.877, 0.876, 0.876, 0.877, 0.876, 0.876, 0.877, 0.876, 0.876, 0.877] + \
             [0.876, 0.877, 0.876, 0.876, 0.877, 0.876, 0.876, 0.877, 0.876, 0.876, 0.877, 0.876, 0.876,
              0.877, 0.876, 0.876, 0.877, 0.876, 0.876, 0.877, 0.876]
p12_drl = [0.0, 0.2, 0.35, 0.5, 0.6, 0.68, 0.72, 0.745, 0.755, 0.76] + \
          [0.76, 0.775, 0.765, 0.785, 0.77, 0.79, 0.775, 0.795, 0.78, 0.80,
           0.79, 0.805, 0.795, 0.81, 0.80, 0.815, 0.80, 0.815, 0.805, 0.82,
           0.808, 0.82, 0.81, 0.825, 0.812, 0.825, 0.815, 0.828, 0.818, 0.83,
           0.82, 0.832, 0.822, 0.835, 0.825, 0.838, 0.828, 0.84, 0.83, 0.838] + \
          [0.837, 0.833, 0.828, 0.818, 0.818, 0.825, 0.833, 0.840, 0.838, 0.833, 0.827, 0.822, 0.826,
           0.830, 0.833, 0.838, 0.830, 0.818, 0.822, 0.850, 0.845]
p12_avg = [0.0, 0.15, 0.25, 0.38, 0.46, 0.5, 0.53, 0.56, 0.575, 0.585] + \
          [0.595, 0.62, 0.605, 0.64, 0.625, 0.655, 0.64, 0.67, 0.655, 0.685,
           0.665, 0.695, 0.68, 0.71, 0.69, 0.72, 0.70, 0.73, 0.71, 0.74,
           0.72, 0.745, 0.725, 0.75, 0.73, 0.755, 0.735, 0.76, 0.74, 0.765,
           0.745, 0.77, 0.75, 0.775, 0.755, 0.78, 0.76, 0.78, 0.765, 0.775] + \
          [0.765, 0.762, 0.767, 0.758, 0.745, 0.745, 0.757, 0.772, 0.777, 0.770, 0.778, 0.782, 0.745,
           0.772, 0.787, 0.782, 0.772, 0.776, 0.778, 0.762, 0.735]
p12_prox = [0.0, 0.2, 0.3, 0.4, 0.47, 0.51, 0.54, 0.57, 0.58, 0.59] + \
           [0.60, 0.625, 0.61, 0.645, 0.63, 0.66, 0.645, 0.675, 0.66, 0.69,
            0.67, 0.70, 0.685, 0.715, 0.695, 0.725, 0.705, 0.735, 0.715, 0.745,
            0.725, 0.75, 0.73, 0.755, 0.735, 0.76, 0.74, 0.765, 0.745, 0.77,
            0.75, 0.775, 0.755, 0.78, 0.76, 0.785, 0.765, 0.785, 0.77, 0.78] + \
           [0.768, 0.765, 0.770, 0.763, 0.750, 0.748, 0.760, 0.775, 0.780, 0.773, 0.782, 0.785, 0.755,
            0.775, 0.790, 0.785, 0.775, 0.780, 0.782, 0.770, 0.745]

PANELS = [
    (p1_x, p1_single, p1_drl, p1_avg, p1_prox),
    (p2_x, p2_single, p2_drl, p2_avg, p2_prox),
    (p3_x, p3_single, p3_drl, p3_avg, p3_prox),
    (p4_x, p4_single, p4_drl, p4_avg, p4_prox),
    (p5_x, p5_single, p5_drl, p5_avg, p5_prox),
    (p6_x, p6_single, p6_drl, p6_avg, p6_prox),
    (p7_x, p7_single, p7_drl, p7_avg, p7_prox),
    (p8_x, p8_single, p8_drl, p8_avg, p8_prox),
    (p9_x, p9_single, p9_drl, p9_avg, p9_prox),
    (p10_x, p10_single, p10_drl, p10_avg, p10_prox),
    (p11_x, p11_single, p11_drl, p11_avg, p11_prox),
    (p12_x, p12_single, p12_drl, p12_avg, p12_prox),
]

MAIN_YMAX = [0.9, 0.8, 0.8, 0.7, 0.73, 0.75, 1.0, 0.9, 0.9, 0.9, 0.9, 0.9]
MAIN_YTICKS = [[0.0, 0.2, 0.4, 0.6, 0.8]] * 3 + [[0.0, 0.2, 0.4, 0.6]] * 3 + \
              [[0.0, 0.2, 0.4, 0.6, 0.8, 1.0]] + [[0.0, 0.2, 0.4, 0.6, 0.8]] * 3 + [[0.0, 0.3, 0.6, 0.9]] * 2
MAIN_XTICKS = [0, 200, 400, 600, 800, 1000]

INSET_XLIM = [(700, 830)] + [(900, 1000)] * 11
INSET_XTICKS = [[700, 750, 800]] + [[900, 950, 1000]] * 11
INSET_YTICKS = [[0.67, 0.70, 0.73, 0.76], [0.59, 0.61, 0.63, 0.65], [0.62, 0.64, 0.66, 0.68],
                [0.53, 0.55, 0.57, 0.59], [0.50, 0.54, 0.58, 0.62], [0.56, 0.58, 0.60, 0.62],
                [0.80, 0.83, 0.86, 0.89, 0.92], [0.68, 0.72, 0.76, 0.80], [0.68, 0.72, 0.76, 0.80],
                [0.72, 0.77, 0.82, 0.87], [0.70, 0.75, 0.80, 0.85], [0.71, 0.76, 0.81, 0.86]]
# zoom rectangle in main axes: (x0, y0, x1, y1)
ZOOM_RECT = [(744, 0.68, 880, 0.80), (865, 0.569, 1000, 0.669), (865, 0.60, 1000, 0.70),
             (853, 0.533, 1000, 0.62), (855, 0.49, 1000, 0.58), (849, 0.543, 1000, 0.636),
             (850, 0.79, 994, 0.91), (870, 0.70, 1000, 0.812), (871, 0.695, 1000, 0.807),
             (866, 0.766, 1000, 0.879), (860, 0.732, 1000, 0.846), (866, 0.74, 1000, 0.854)]

# ---------------- layout (pixel boxes: left, top, right, bottom)
W, H = 1348, 516
MAIN_BOX = [(67.7, 52, 234, 228), (282, 54, 448, 228), (497.7, 53, 663, 228), (723, 52, 889, 228),
            (937.7, 52, 1103.3, 226), (1153.3, 52, 1319.3, 226),
            (67.7, 290, 234, 465), (283, 292.5, 450, 465), (499, 289, 666.7, 466), (727, 289, 894, 465.7),
            (940.7, 290, 1107, 465), (1156.7, 290, 1323, 466)]
INSET_BOX = [(144, 116, 230, 197.3), (363, 117, 447, 199), (576.7, 117.3, 659.3, 200), (804.3, 117.3, 886.7, 200),
             (1029.3, 135, 1102.3, 205), (1237.7, 133.3, 1315, 202.7),
             (148.3, 355, 231.7, 437.7), (362.3, 354, 445.7, 437.7), (578.3, 354, 661.7, 437.7),
             (809, 359.3, 892.7, 437.7), (1016.7, 358.3, 1100, 440), (1237.3, 361, 1321, 442.7)]
TITLE_POS = [(167.5, 41), (378, 42), (595, 42), (812, 43), (1031, 40), (1244, 41),
             (159, 278), (375, 279), (590, 279), (818, 280), (1035.5, 279), (1246, 279)]

COLORS = ['#000000', '#FF0000', '#FFC000', '#5B9BD5']
TICK_FONT = 'Lato'
BOLD_FONT = 'Liberation Sans'

fig = plt.figure(figsize=(W / 100, H / 100), dpi=100)


def px_axes(box):
    l, t, r, b = box
    return fig.add_axes([l / W, 1 - b / H, (r - l) / W, (b - t) / H])


def draw_series(ax, data, lw):
    x = np.array(data[0], dtype=float)
    ys = data[1:]
    order = [2, 3, 1, 0]  # FedAvg, FedProx, FedDRL, SingleSet
    for k in order:
        y = np.array(ys[k], dtype=float)
        n = min(len(x), len(y))
        if len(x) != len(y):
            print('length mismatch', len(x), len(y))
        if k == 2:
            ax.plot(x[:n], y[:n], color=COLORS[k], lw=lw, ls=(0, (3, 2)))
        else:
            ax.plot(x[:n], y[:n], color=COLORS[k], lw=lw)


for i, data in enumerate(PANELS):
    ax = px_axes(MAIN_BOX[i])
    draw_series(ax, data, 1.1)
    ax.set_xlim(0, 1000)
    ax.set_ylim(0, MAIN_YMAX[i])
    ax.set_xticks(MAIN_XTICKS)
    ax.set_xticklabels([str(v) for v in MAIN_XTICKS], fontfamily=TICK_FONT, fontsize=10.5, color='#1a1a1a')
    ax.set_yticks(MAIN_YTICKS[i])
    ax.set_yticklabels(['%.1f' % v for v in MAIN_YTICKS[i]], fontfamily=TICK_FONT, fontsize=10.5, color='#1a1a1a')
    ax.tick_params(axis='x', direction='in', length=3, width=0.8, color='#8c8c8c', pad=8)
    ax.tick_params(axis='y', length=0, pad=5)
    ax.grid(axis='y', color='#d9d9d9', lw=0.8)
    ax.set_axisbelow(True)
    for s in ax.spines.values():
        s.set_color('#8c8c8c')
        s.set_linewidth(1.0)

    x0, y0, x1, y1 = ZOOM_RECT[i]
    ax.add_patch(Rectangle((x0, y0), x1 - x0, y1 - y0, fill=False, ec='#000000', lw=0.9,
                           ls=(0, (3, 2)), clip_on=False, zorder=5))

    ix = px_axes(INSET_BOX[i])
    draw_series(ix, data, 1.0)
    yt = INSET_YTICKS[i]
    ix.set_xlim(*INSET_XLIM[i])
    ix.set_ylim(yt[0], yt[-1])
    ix.set_xticks(INSET_XTICKS[i])
    ix.set_xticklabels([str(v) for v in INSET_XTICKS[i]], fontfamily=TICK_FONT, fontsize=8, color='#1a1a1a')
    ix.set_yticks(yt)
    ix.set_yticklabels(['%.2f' % v for v in yt], fontfamily=TICK_FONT, fontsize=8, color='#1a1a1a')
    ix.tick_params(axis='both', length=0)
    ix.tick_params(axis='y', pad=7)
    ix.tick_params(axis='x', pad=7)
    ix.grid(axis='y', color='#d9d9d9', lw=0.7)
    ix.set_axisbelow(True)
    ix.set_facecolor('white')
    for s in ix.spines.values():
        s.set_color('#404040')
        s.set_linewidth(0.9)

    for (xa, xb) in [(x0, 0.0), (x1, 1.0)]:
        con = ConnectionPatch(xyA=(xa, y0), coordsA=ax.transData, xyB=(xb, 1.0), coordsB=ix.transAxes,
                              color='#808080', lw=0.7, ls=(0, (2, 2)))
        fig.add_artist(con)

    tx, ty = TITLE_POS[i]
    fig.text(tx / W, 1 - ty / H, TITLES[i], ha='center', va='center', fontfamily=BOLD_FONT,
             fontweight='bold', fontsize=10.5)

fig.text(19 / W, 1 - 136.5 / H, 'Testing accuracy', rotation=90, ha='center', va='center',
         fontfamily=BOLD_FONT, fontweight='bold', fontsize=11.5)
fig.text(19 / W, 1 - 378 / H, 'Testing accuracy', rotation=90, ha='center', va='center',
         fontfamily=BOLD_FONT, fontweight='bold', fontsize=11.5)
fig.text(710 / W, 1 - 507 / H, 'Communication round', ha='center', va='center',
         fontfamily=BOLD_FONT, fontweight='bold', fontsize=12)

handles = [Line2D([], [], color=COLORS[0], lw=1.5), Line2D([], [], color=COLORS[1], lw=1.5),
           Line2D([], [], color=COLORS[2], lw=1.5, ls=(0, (3, 2))), Line2D([], [], color=COLORS[3], lw=1.5)]
fig.legend(handles, SERIES_NAMES, loc='center', bbox_to_anchor=(659 / W, 1 - 13 / H), ncol=4,
           frameon=False, handlelength=2.0, handletextpad=0.25, columnspacing=3.4,
           prop={'family': TICK_FONT, 'size': 10.5})

fig.savefig('out.png', dpi=100)
